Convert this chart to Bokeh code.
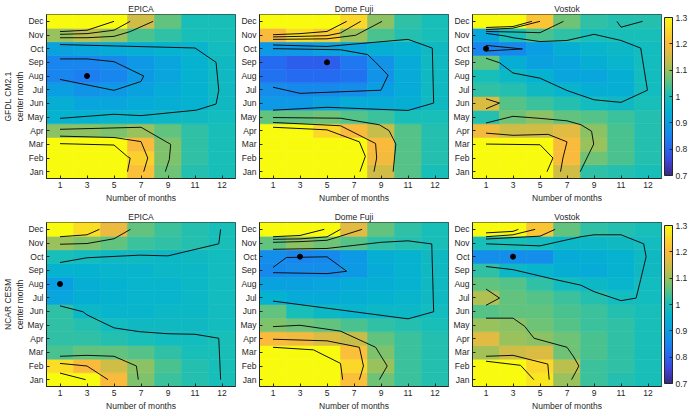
import numpy as np
from bokeh.plotting import figure
from bokeh.models import (Range1d, FixedTicker, LinearColorMapper, ColorBar, Title,
                          CustomJSTickFormatter, ColumnDataSource)
from bokeh.layouts import column, row
from bokeh.transform import transform
from bokeh.embed import file_html
from bokeh.resources import INLINE

# ---------------- data ----------------
months = ["Jan", "Feb", "Mar", "Apr", "May", "Jun", "Jul", "Aug", "Sep", "Oct", "Nov", "Dec"]
n_months_labels = ["1", "3", "5", "7", "9", "11", "12"]
sites = ["EPICA", "Dome Fuji", "Vostok"]
models = ["GFDL CM2.1", "NCAR CESM"]
cbar_ticks = [0.7, 0.8, 0.9, 1.0, 1.1, 1.2, 1.3]

# rows listed top (Dec) to bottom (Jan); columns = number of months 1,3,5,7,9,11,12
epica_gfdl = [
    [1.35, 1.35, 1.33, 1.15, 1.06, 1.00, 1.00],
    [1.10, 1.13, 1.10, 1.04, 1.02, 1.00, 1.00],
    [0.91, 0.92, 0.93, 0.94, 0.95, 0.96, 0.99],
    [0.85, 0.85, 0.86, 0.89, 0.92, 0.95, 0.98],
    [0.85, 0.84, 0.85, 0.89, 0.92, 0.95, 0.98],
    [0.90, 0.88, 0.89, 0.91, 0.93, 0.95, 0.98],
    [0.94, 0.92, 0.92, 0.93, 0.94, 0.95, 0.98],
    [0.95, 0.95, 0.96, 0.96, 0.97, 0.98, 0.99],
    [1.09, 1.09, 1.08, 1.10, 1.06, 1.02, 1.00],
    [1.35, 1.35, 1.33, 1.20, 1.08, 1.02, 1.00],
    [1.35, 1.35, 1.33, 1.24, 1.08, 1.02, 1.00],
    [1.35, 1.35, 1.33, 1.21, 1.07, 1.01, 1.00],
]
dome_gfdl = [
    [1.35, 1.35, 1.35, 1.25, 1.09, 1.02, 1.00],
    [1.20, 1.26, 1.23, 1.10, 1.04, 1.01, 1.00],
    [0.89, 0.89, 0.91, 0.92, 0.94, 0.95, 0.98],
    [0.81, 0.79, 0.79, 0.83, 0.88, 0.93, 0.98],
    [0.82, 0.81, 0.81, 0.82, 0.88, 0.93, 0.98],
    [0.87, 0.86, 0.86, 0.87, 0.90, 0.93, 0.98],
    [0.89, 0.89, 0.91, 0.93, 0.93, 0.94, 0.98],
    [1.06, 1.06, 1.07, 1.05, 1.03, 1.00, 1.00],
    [1.35, 1.35, 1.25, 1.20, 1.14, 1.05, 1.01],
    [1.35, 1.35, 1.35, 1.33, 1.20, 1.05, 1.01],
    [1.35, 1.35, 1.35, 1.33, 1.19, 1.05, 1.01],
    [1.35, 1.35, 1.35, 1.33, 1.15, 1.05, 1.00],
]
vostok_gfdl = [
    [1.35, 1.35, 1.22, 1.07, 1.02, 1.01, 1.01],
    [0.92, 1.00, 1.04, 1.02, 1.00, 1.00, 1.00],
    [0.85, 0.86, 0.90, 0.94, 0.96, 0.97, 0.99],
    [1.06, 0.94, 0.91, 0.92, 0.94, 0.96, 0.99],
    [1.00, 0.97, 0.95, 0.92, 0.92, 0.94, 0.99],
    [1.02, 1.01, 0.98, 0.96, 0.94, 0.94, 0.99],
    [1.16, 1.05, 1.03, 1.01, 0.99, 0.98, 1.00],
    [1.01, 1.07, 1.09, 1.06, 1.05, 1.03, 1.01],
    [1.19, 1.15, 1.15, 1.17, 1.09, 1.04, 1.01],
    [1.35, 1.35, 1.35, 1.20, 1.10, 1.04, 1.01],
    [1.35, 1.35, 1.35, 1.20, 1.07, 1.04, 1.01],
    [1.35, 1.35, 1.35, 1.15, 1.02, 1.01, 1.00],
]
epica_ncar = [
    [1.35, 1.26, 1.18, 1.06, 1.03, 1.01, 1.00],
    [1.10, 1.08, 1.06, 1.03, 1.02, 1.01, 1.00],
    [1.00, 0.99, 0.98, 0.98, 0.97, 0.98, 0.99],
    [0.95, 0.95, 0.96, 0.96, 0.97, 0.97, 0.99],
    [0.90, 0.94, 0.95, 0.96, 0.96, 0.97, 0.99],
    [0.92, 0.94, 0.95, 0.96, 0.96, 0.97, 0.99],
    [1.02, 0.97, 0.96, 0.96, 0.97, 0.97, 0.99],
    [1.02, 1.01, 0.99, 0.98, 0.98, 0.98, 0.99],
    [1.02, 1.02, 1.01, 1.00, 0.99, 0.99, 1.00],
    [1.04, 1.06, 1.06, 1.05, 1.02, 1.00, 1.00],
    [1.26, 1.20, 1.15, 1.09, 1.04, 1.01, 1.00],
    [1.35, 1.35, 1.20, 1.08, 1.03, 1.01, 1.00],
]
dome_ncar = [
    [1.35, 1.35, 1.30, 1.17, 1.06, 1.02, 1.00],
    [1.06, 1.09, 1.07, 1.05, 1.02, 1.01, 1.00],
    [0.87, 0.85, 0.86, 0.89, 0.94, 0.95, 0.98],
    [0.86, 0.87, 0.87, 0.89, 0.93, 0.95, 0.98],
    [0.91, 0.91, 0.92, 0.93, 0.94, 0.95, 0.98],
    [0.95, 0.93, 0.93, 0.94, 0.95, 0.96, 0.98],
    [1.06, 1.00, 0.97, 0.96, 0.97, 0.97, 0.99],
    [1.08, 1.07, 1.06, 1.04, 1.02, 1.01, 1.00],
    [1.20, 1.19, 1.16, 1.14, 1.06, 1.03, 1.01],
    [1.35, 1.35, 1.35, 1.21, 1.08, 1.03, 1.01],
    [1.35, 1.35, 1.35, 1.25, 1.10, 1.03, 1.01],
    [1.35, 1.35, 1.35, 1.21, 1.07, 1.03, 1.01],
]
vostok_ncar = [
    [1.35, 1.35, 1.22, 1.06, 1.02, 1.01, 1.00],
    [1.00, 1.00, 0.99, 0.97, 0.97, 0.98, 0.99],
    [0.87, 0.87, 0.87, 0.93, 0.94, 0.95, 0.98],
    [1.02, 0.97, 0.96, 0.94, 0.93, 0.95, 0.98],
    [1.06, 1.05, 1.02, 0.99, 0.97, 0.96, 0.99],
    [1.12, 1.06, 1.05, 1.03, 1.01, 0.99, 0.99],
    [1.05, 1.06, 1.06, 1.04, 1.03, 1.01, 1.00],
    [1.10, 1.09, 1.07, 1.05, 1.03, 1.02, 1.00],
    [1.17, 1.10, 1.09, 1.07, 1.04, 1.02, 1.00],
    [1.11, 1.15, 1.16, 1.07, 1.04, 1.02, 1.00],
    [1.35, 1.35, 1.25, 1.13, 1.03, 1.02, 1.00],
    [1.35, 1.35, 1.27, 1.10, 1.03, 1.01, 1.00],
]

# contour lines: (column index 1..7, month 1..12) vertices
contours_epica_gfdl = [
    [(1, 11.25), (2, 11.35), (3, 12)],
    [(1, 11.05), (2, 11.1), (3, 11.35), (3.6, 12)],
    [(1, 10.8), (2, 10.8), (3, 10.9), (3.6, 11.25), (4.45, 12)],
    [(1, 10.3), (6.0, 10.05), (6.78, 9.0), (6.88, 6.95), (6.78, 5.95), (6.05, 5.5), (4.0, 5.1), (3, 5.2), (1, 4.9)],
    [(1, 9.25), (2, 9.25), (3, 9.05), (4.1, 8.0), (4.0, 7.6), (3, 6.95), (1, 7.75)],
    [(1, 4.1), (4.0, 4.25), (5.1, 3.0), (5.05, 1.9), (4.9, 1.0)],
    [(1, 3.6), (3, 3.5), (4.0, 3.2), (4.25, 2.0), (4.1, 1.0)],
    [(1, 3.05), (3, 2.95), (3.5, 2.1), (3.6, 2.0), (3.5, 1.0)],
]
contours_dome_gfdl = [
    [(1, 11.02), (2, 11.1), (3, 11.26), (3.73, 12)],
    [(1, 10.86), (2, 10.9), (3, 10.95), (3.5, 11.15), (4.25, 12)],
    [(1, 10.68), (2, 10.7), (3, 10.72), (4.06, 10.98), (5.04, 12)],
    [(1, 10.27), (3, 10.16), (6.0, 10.68), (6.9, 10.04), (6.95, 6.02), (6.0, 5.48), (3, 5.71), (1, 5.5)],
    [(1, 10.0), (3.5, 9.92), (4.5, 9.57), (4.8, 9.0), (5.26, 8.06), (5.0, 6.96), (2, 6.73), (1, 7.18)],
    [(1, 4.96), (3.5, 4.91), (4.94, 4.43), (5.3, 4.0), (5.55, 3.02), (5.45, 1.0)],
    [(1, 4.6), (3.5, 4.36), (4.8, 3.06), (4.84, 2.0), (4.74, 1.0)],
    [(1, 4.25), (3, 4.06), (4.2, 3.18), (4.42, 2.12), (4.22, 1.0)],
]
contours_vostok_gfdl = [
    [(1, 11.55), (2, 11.62), (2.7, 12)],
    [(1, 11.4), (2, 11.5), (3.0, 12)],
    [(1, 11.26), (2, 11.22), (3, 11.17), (3.87, 12)],
    [(1, 11.12), (1.7, 10.93), (2, 10.8), (3, 10.52), (4, 10.6), (5, 11.05), (6, 10.6), (6.73, 10.04),
     (6.98, 6.96), (6, 6.07), (5, 6.26), (4, 6.94), (3, 7.84), (2, 8.22), (1.5, 8.97), (1, 9.3)],
    [(1, 10.24), (2.35, 9.98), (1, 9.83)],
    [(5.85, 12), (6.0, 11.57), (6.8, 12)],
    [(1, 6.33), (1.5, 6.02), (1, 5.6)],
    [(1, 4.56), (2, 5.05), (3, 4.9), (4, 4.72), (4.52, 4.43), (4.91, 3.96), (4.99, 3.02), (4.49, 1.0)],
    [(1, 3.82), (2, 3.66), (3.3, 3.73), (4.0, 3.18), (3.85, 2.0), (3.76, 1.0)],
    [(1, 3.02), (3, 2.97), (3.48, 2.0), (3.26, 1.0)],
]
contours_epica_ncar = [
    [(1, 11.46), (2, 11.6), (2.46, 12)],
    [(1, 10.91), (2, 10.96), (3, 11.31), (3.61, 12)],
    [(1, 9.57), (2, 9.92), (3.95, 10.11), (5, 10.06), (6.88, 10.94), (6.95, 12)],
    [(1, 6.4), (1.85, 5.97), (2, 5.74), (3, 4.79), (3.95, 4.51), (5, 4.36), (6, 4.32), (6.88, 4.03), (6.95, 1.0)],
    [(1, 2.71), (2, 2.78), (3, 2.71), (3.83, 2.0), (3.9, 1.0)],
    [(1, 2.19), (2, 2.0), (2.78, 1.0)],
    [(1, 1.48), (1.95, 1.0)],
]
contours_dome_ncar = [
    [(1, 11.46), (2, 11.55), (2.9, 12)],
    [(1, 11.27), (2, 11.3), (3, 11.45), (3.5, 12)],
    [(1, 11.05), (2, 11.1), (3, 11.2), (3.5, 11.5), (4.3, 12)],
    [(1, 10.54), (3, 10.6), (5, 11.05), (6, 11.16), (6.88, 10.93), (6.95, 5.97), (6, 5.45), (1, 6.75)],
    [(1, 9.21), (1.5, 9.94), (3, 9.99), (3.73, 8.93), (3, 8.76), (1, 8.83)],
    [(1, 4.88), (2, 4.98), (3.5, 4.55), (4.8, 3.37), (5.23, 2.0), (4.94, 1.0)],
    [(1, 3.96), (3, 3.84), (4.2, 3.37), (4.35, 2.0), (4.2, 1.0)],
    [(1, 3.37), (2.5, 3.18), (3.5, 2.19), (3.58, 1.0)],
]
contours_vostok_ncar = [
    [(1, 11.74), (2, 11.85), (2.2, 12)],
    [(1, 11.46), (2, 11.6), (2.82, 12)],
    [(1, 11.29), (3, 11.5), (3.56, 12)],
    [(1, 10.94), (3, 10.79), (4.52, 11.46), (5, 11.6), (6, 11.6), (6.84, 10.94), (6.93, 9.99), (6.73, 8.34),
     (6.56, 6.97), (6, 6.78), (5, 7.44), (4.52, 7.91), (3.53, 8.34), (2, 9.05), (1, 9.28)],
    [(1, 7.63), (1.5, 6.97), (1, 6.44)],
    [(1, 5.5), (2, 5.5), (2.43, 4.91), (2.78, 4.03), (4, 3.37), (4.25, 2.66), (4.44, 2.0), (4.17, 1.0)],
    [(1, 2.71), (2, 2.78), (3.29, 2.14), (3.34, 1.0)],
    [(1, 2.35), (2.28, 2.05), (2.77, 1.0)],
]
# location of the extreme (dot): (column index, month index)
dots = [[(2, 8), (3, 9), (1, 10)], [(1, 8), (2, 10), (2, 10)]]

grids = [[epica_gfdl, dome_gfdl, vostok_gfdl], [epica_ncar, dome_ncar, vostok_ncar]]
contours = [[contours_epica_gfdl, contours_dome_gfdl, contours_vostok_gfdl],
            [contours_epica_ncar, contours_dome_ncar, contours_vostok_ncar]]

# ---------------- colormap (parula-like) ----------------
anchor_vals = np.linspace(0.7, 1.3, 13)
anchor_rgb = np.array([
    (0.208, 0.166, 0.529), (0.250, 0.260, 0.820), (0.150, 0.400, 0.950), (0.100, 0.520, 0.935),
    (0.040, 0.620, 0.890), (0.020, 0.700, 0.815), (0.090, 0.745, 0.725), (0.330, 0.765, 0.530),
    (0.600, 0.760, 0.360), (0.820, 0.740, 0.270), (0.980, 0.730, 0.240), (0.980, 0.840, 0.160),
    (0.977, 0.983, 0.060)])
tt = np.linspace(0.7, 1.3, 256)
palette = []
for t in tt:
    rgb = [np.interp(t, anchor_vals, anchor_rgb[:, k]) for k in range(3)]
    palette.append("#%02x%02x%02x" % tuple(int(round(255 * v)) for v in rgb))
mapper = LinearColorMapper(palette=palette, low=0.7, high=1.3)

FONT = "Liberation Sans"
FS = "8.5px"
TXT = "#262626"
FW, FH = 189, 164

figs = []
for r in range(2):
    row_figs = []
    for c in range(3):
        left = 38 if c == 0 else 23
        right = 29 if c == 2 else 1
        bottom = 30 if r == 0 else 26
        p = figure(x_range=Range1d(0.5, 7.5), y_range=Range1d(0.5, 12.5),
                   frame_width=FW, frame_height=FH,
                   min_border_left=left, min_border_right=right,
                   min_border_top=12, min_border_bottom=bottom,
                   output_backend="svg", toolbar_location=None, title=sites[c])
        p.title.align = "center"
        p.title.text_font = FONT
        p.title.text_font_size = FS
        p.title.text_font_style = "normal"
        p.title.text_color = TXT
        p.title.standoff = 2
        p.grid.visible = False
        p.outline_line_color = TXT
        p.outline_line_width = 1
        p.background_fill_color = None

        g = grids[r][c][::-1]  # Jan first
        xs, ys, vs = [], [], []
        for mi in range(12):
            for ci in range(7):
                xs.append(ci + 1)
                ys.append(mi + 1)
                vs.append(g[mi][ci])
        src = ColumnDataSource(dict(x=xs, y=ys, v=vs))
        p.rect("x", "y", width=1, height=1, source=src,
               fill_color=transform("v", mapper), line_color=transform("v", mapper), line_width=0.6)

        lx = [[pt[0] for pt in ln] for ln in contours[r][c]]
        ly = [[pt[1] for pt in ln] for ln in contours[r][c]]
        p.multi_line(lx, ly, line_color="#111111", line_width=1)
        p.scatter([dots[r][c][0]], [dots[r][c][1]], size=5, color="black")

        p.xaxis.ticker = FixedTicker(ticks=list(range(1, 8)))
        p.xaxis.major_label_overrides = {i + 1: lab for i, lab in enumerate(n_months_labels)}
        p.yaxis.ticker = FixedTicker(ticks=list(range(1, 13)))
        p.yaxis.major_label_overrides = {i + 1: m for i, m in enumerate(months)}
        p.xaxis.axis_label = "Number of months"
        for ax in (p.xaxis, p.yaxis):
            ax.major_tick_in = 3
            ax.major_tick_out = 0
            ax.minor_tick_line_color = None
            ax.axis_line_color = TXT
            ax.major_tick_line_color = TXT
            ax.major_label_text_font = FONT
            ax.major_label_text_font_size = FS
            ax.major_label_text_color = TXT
            ax.major_label_standoff = 3
            ax.axis_label_text_font = FONT
            ax.axis_label_text_font_size = FS
            ax.axis_label_text_font_style = "normal"
            ax.axis_label_text_color = TXT
            ax.axis_label_standoff = 2

        if c == 0:
            p.add_layout(Title(text="center month", align="center", text_font=FONT,
                               text_font_size=FS, text_font_style="normal",
                               text_color=TXT, standoff=0), "left")
            p.add_layout(Title(text=models[r], align="center", text_font=FONT,
                               text_font_size=FS, text_font_style="normal",
                               text_color=TXT, standoff=0), "left")
        if c == 2:
            cb = ColorBar(color_mapper=mapper, ticker=FixedTicker(ticks=cbar_ticks),
                          formatter=CustomJSTickFormatter(code="return String(Math.round(tick*10)/10)"),
                          width=8, padding=3, margin=0, label_standoff=3,
                          major_label_text_font=FONT, major_label_text_font_size=FS,
                          major_label_text_color=TXT,
                          major_tick_in=3, major_tick_out=0, major_tick_line_color=TXT,
                          bar_line_color=TXT, border_line_color=None, background_fill_color=None)
            p.add_layout(cb, "right")
        row_figs.append(p)
    figs.append(row(*row_figs, spacing=0))

layout = column(*figs, spacing=0)
open("out.html", "w").write(file_html(layout, INLINE))
